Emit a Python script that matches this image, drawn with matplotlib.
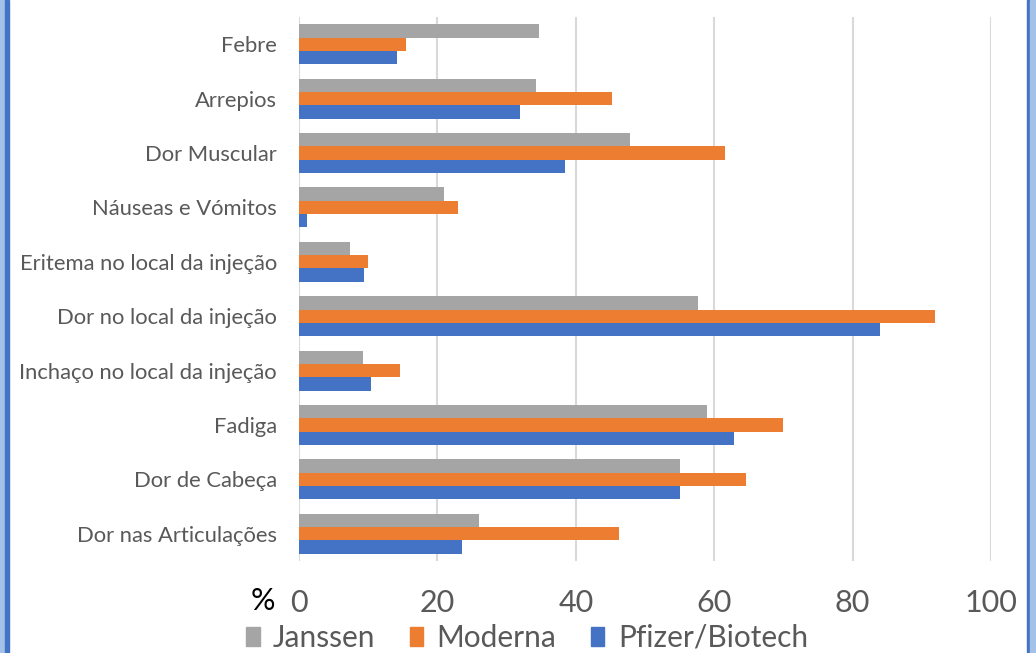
import numpy as np
import matplotlib.pyplot as plt
from matplotlib.patches import Rectangle, Patch

categories = ['Febre', 'Arrepios', 'Dor Muscular', 'Náuseas e Vómitos',
              'Eritema no local da injeção', 'Dor no local da injeção',
              'Inchaço no local da injeção', 'Fadiga', 'Dor de Cabeça',
              'Dor nas Articulações']
janssen = [34.7, 34.2, 47.8, 20.9, 7.3, 57.7, 9.2, 59.0, 55.0, 26.0]
moderna = [15.5, 45.3, 61.5, 23.0, 9.9, 91.9, 14.6, 69.9, 64.6, 46.3]
pfizer = [14.2, 31.9, 38.4, 1.1, 9.4, 83.9, 10.4, 62.8, 55.0, 23.5]
xticks = [0, 20, 40, 60, 80, 100]

plt.rcParams['font.family'] = ['Lato', 'DejaVu Sans']

fig = plt.figure(figsize=(10.36, 6.53), dpi=100)
ax = fig.add_axes([299 / 1036, 1 - 561 / 653, 692 / 1036, 544 / 653])

y = np.arange(len(categories))
h = 0.245
ax.barh(y - h, janssen, h, color='#A5A5A5', label='Janssen', zorder=3)
ax.barh(y, moderna, h, color='#ED7D31', label='Moderna', zorder=3)
ax.barh(y + h, pfizer, h, color='#4472C4', label='Pfizer/Biotech', zorder=3)

ax.set_ylim(len(categories) - 0.5, -0.5)
ax.set_xlim(0, 100)
ax.set_yticks(y)
ax.set_yticklabels(categories, fontsize=15.8, color='#595959')
ax.set_xticks(xticks)
ax.set_xticklabels([str(t) for t in xticks], fontsize=22, color='#595959')
ax.tick_params(axis='y', length=0, pad=16)
ax.tick_params(axis='x', length=0, pad=20)
ax.grid(axis='x', color='#D9D9D9', lw=1.5, zorder=0)
for s in ax.spines.values():
    s.set_visible(False)

fig.text(263 / 1036, 1 - 601 / 653, '%', fontsize=22, color='black',
         ha='center', va='center')

handles = [Patch(color='#A5A5A5', label='Janssen'),
           Patch(color='#ED7D31', label='Moderna'),
           Patch(color='#4472C4', label='Pfizer/Biotech')]
fig.legend(handles=handles, loc='center', bbox_to_anchor=(527 / 1036, 1 - 638 / 653),
           ncol=3, frameon=False, prop={'size': 21.5},
           labelcolor='#595959', handlelength=0.45, handleheight=0.65,
           handletextpad=0.45, columnspacing=1.15)

# blue frame strips on the sides
for x0, w, c in [(0, 5, '#A4C2E8'), (5, 4, '#4472C4'),
                 (1027, 3, '#4472C4'), (1030, 6, '#A4C2E8')]:
    fig.patches.append(Rectangle((x0 / 1036, 0), w / 1036, 1, color=c,
                                 transform=fig.transFigure, zorder=5))

fig.savefig('out.png', dpi=100)
